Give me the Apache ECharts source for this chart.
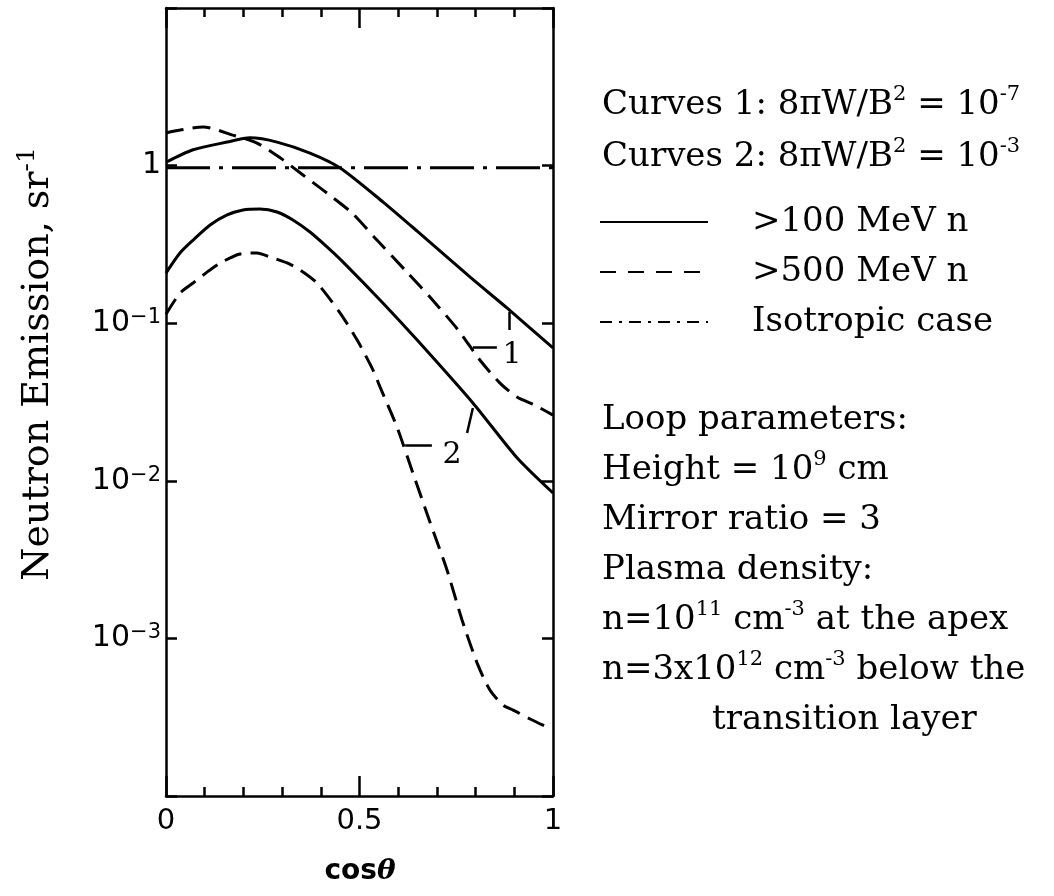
<!DOCTYPE html>
<html>
<head>
<meta charset="utf-8">
<script src="https://cdn.jsdelivr.net/npm/echarts@6/dist/echarts.min.js"></script>
<style>
  html, body { margin: 0; padding: 0; background: #fff; }
  #chart { width: 1054px; height: 896px; }
</style>
</head>
<body>
<div id="chart"></div>
<script>
// values (x = cos theta, y = neutron emission per sr)
const cosS1 = [0, 0.070, 0.158, 0.217, 0.287, 0.372, 0.450, 0.561, 0.649, 0.786, 0.881, 1]
const valS1 = [1.05, 1.26, 1.41, 1.50, 1.41, 1.20, 0.966, 0.587, 0.384, 0.196, 0.125, 0.0697]

const cosD1 = [0, 0.036, 0.096, 0.173, 0.235, 0.295, 0.354, 0.416, 0.481, 0.545, 0.625, 0.682, 0.755, 0.811, 0.863, 0.907, 0.953, 1]
const valD1 = [1.61, 1.68, 1.76, 1.56, 1.39, 1.12, 0.871, 0.669, 0.500, 0.337, 0.208, 0.1466, 0.0905, 0.0584, 0.0417, 0.0340, 0.0302, 0.0261]

const cosS2 = [0, 0.036, 0.070, 0.114, 0.158, 0.199, 0.243, 0.287, 0.328, 0.372, 0.416, 0.457, 0.561, 0.649, 0.793, 0.907, 1]
const valS2 = [0.208, 0.279, 0.337, 0.420, 0.486, 0.523, 0.530, 0.508, 0.452, 0.379, 0.305, 0.245, 0.134, 0.0782, 0.0312, 0.0140, 0.00837]

const cosD2 = [0, 0.036, 0.070, 0.106, 0.140, 0.191, 0.235, 0.269, 0.313, 0.346, 0.390, 0.450, 0.494, 0.535, 0.553, 0.597, 0.638, 0.682, 0.726, 0.765, 0.804, 0.837, 0.871, 0.897, 0.941, 0.984]
const valD2 = [0.114, 0.155, 0.180, 0.211, 0.241, 0.275, 0.279, 0.263, 0.241, 0.218, 0.180, 0.116, 0.0781, 0.0504, 0.0394, 0.0219, 0.0112, 0.00547, 0.00272, 0.00131, 0.000697, 0.000470, 0.000377, 0.000351, 0.000308, 0.000274]

const cosIso = [0, 1]
const valIso = [0.97, 0.97]

// curve labels "1" and "2" with their leader strokes (data units)
const curveTags = [['1', 0.894, 0.0629], ['2', 0.739, 0.0146]]
const leaders = [
  [[0.793, 0.0706], [0.855, 0.0706]],
  [[0.886, 0.118], [0.886, 0.0905]],
  [[0.618, 0.01687], [0.687, 0.01687]],
  [[0.793, 0.0290], [0.778, 0.0201]]
]

const textLines = [
  '{t|Curves 1: 8πW/B}{s|2}{t| = 10}{s|-7}',
  '{t|Curves 2: 8πW/B}{s|2}{t| = 10}{s|-3}',
  '{t|>100 MeV n}',
  '{t|>500 MeV n}',
  '{t|Isotropic case}',
  '{t|Loop parameters:}',
  '{t|Height = 10}{s|9}{t| cm}',
  '{t|Mirror ratio = 3}',
  '{t|Plasma density:}',
  '{t|n=10}{s|11}{t| cm}{s|-3}{t| at the apex}',
  '{t|n=3x10}{s|12}{t| cm}{s|-3}{t| below the}',
  '{t|transition layer}'
]

const zip = (xs, ys) => xs.map((x, i) => [x, ys[i]])

const serif = 'DejaVu Serif'
const sans = 'DejaVu Sans'
const textRich = {
  t: { fontFamily: serif, fontSize: 34, color: '#000', lineHeight: 42 },
  s: { fontFamily: serif, fontSize: 21, color: '#000', lineHeight: 14, verticalAlign: 'top' }
}

const lineY = [105, 157, 222, 272, 322, 420, 470, 520, 570, 620, 670, 720]
const lineX = [602, 602, 752, 752, 752, 602, 602, 602, 602, 602, 602, 712]

const graphics = textLines.map((txt, i) => ({
  type: 'text',
  x: lineX[i],
  y: lineY[i],
  style: { text: txt, rich: textRich, align: 'left', verticalAlign: 'middle' }
}))

// legend line samples
graphics.push(
  { type: 'line', shape: { x1: 600, y1: 222, x2: 708, y2: 222 }, style: { stroke: '#000', lineWidth: 2 } },
  { type: 'line', shape: { x1: 600, y1: 272, x2: 708, y2: 272 }, style: { stroke: '#000', lineWidth: 2, lineDash: [16, 12] } },
  { type: 'line', shape: { x1: 600, y1: 322, x2: 708, y2: 322 }, style: { stroke: '#000', lineWidth: 2, lineDash: [12, 7, 3, 7] } }
)

// axis titles
graphics.push(
  {
    type: 'text', x: 38, y: 364, rotation: Math.PI / 2,
    style: {
      text: '{t|Neutron Emission, sr}{s|-1}',
      rich: {
        t: { fontFamily: serif, fontSize: 38, color: '#000', lineHeight: 46 },
        s: { fontFamily: serif, fontSize: 25, color: '#000', lineHeight: 16, verticalAlign: 'top' }
      },
      align: 'center', verticalAlign: 'middle'
    }
  },
  {
    type: 'text', x: 360, y: 872,
    style: {
      text: '{a|cos}{b|θ}',
      rich: {
        a: { fontFamily: sans, fontWeight: 'bold', fontSize: 28, color: '#000' },
        b: { fontFamily: serif, fontWeight: 'bold', fontStyle: 'italic', fontSize: 28, color: '#000' }
      },
      align: 'center', verticalAlign: 'middle'
    }
  }
)

const chart = echarts.init(document.getElementById('chart'))

const xAxisBase = {
  type: 'value',
  min: 0,
  max: 1,
  interval: 0.5,
  axisLine: { show: true, onZero: false, lineStyle: { color: '#000', width: 2.5 } },
  axisTick: { show: true, inside: true, length: 20, lineStyle: { color: '#000', width: 2.5 } },
  minorTick: { show: true, splitNumber: 5, length: 9, lineStyle: { color: '#000', width: 2.5 } },
  splitLine: { show: false }
}

const yAxisBase = {
  type: 'log',
  logBase: 10,
  min: 1e-4,
  max: 10,
  axisLine: { show: true, onZero: false, lineStyle: { color: '#000', width: 2.5 } },
  axisTick: { show: true, inside: true, length: 11, lineStyle: { color: '#000', width: 2.5 } },
  minorTick: { show: false },
  splitLine: { show: false }
}

const curve = (data, type, width) => ({
  type: 'line',
  data: data,
  smooth: 0.25,
  showSymbol: false,
  symbol: 'none',
  silent: true,
  lineStyle: { color: '#000', width: width, type: type, cap: 'butt' }
})

const s1 = curve(zip(cosS1, valS1), 'solid', 3)
s1.markLine = {
  silent: true,
  symbol: ['none', 'none'],
  label: { show: false },
  lineStyle: { color: '#000', width: 2.5, type: 'solid' },
  data: leaders.map(l => [{ coord: l[0] }, { coord: l[1] }])
}
s1.markPoint = {
  silent: true,
  symbol: 'circle',
  symbolSize: 1,
  itemStyle: { color: 'rgba(0,0,0,0)' },
  label: {
    show: true, position: 'inside', color: '#000', textBorderWidth: 0,
    fontFamily: serif, fontSize: 30,
    formatter: p => p.name
  },
  data: curveTags.map(t => ({ name: t[0], coord: [t[1], t[2]] }))
}

chart.setOption({
  animation: false,
  backgroundColor: '#fff',
  grid: { left: 166, right: 501, top: 8, bottom: 100 },
  xAxis: [
    Object.assign({}, xAxisBase, {
      position: 'bottom',
      axisLabel: {
        show: true, margin: 11, color: '#000', fontFamily: sans, fontSize: 29,
        formatter: v => (v === 0 ? '0' : v === 1 ? '1' : '0.5')
      }
    }),
    Object.assign({}, xAxisBase, { position: 'top', axisLabel: { show: false } })
  ],
  yAxis: [
    Object.assign({}, yAxisBase, {
      position: 'left',
      axisLabel: {
        show: true, margin: 5, color: '#000',
        formatter: v => {
          const e = Math.round(Math.log10(v))
          if (e === 0) return '{n|1}'
          if (e < 0 && e >= -3) return '{n|10}{s|−' + (-e) + '}'
          return ''
        },
        rich: {
          n: { fontFamily: sans, fontSize: 30, color: '#000', lineHeight: 32 },
          s: { fontFamily: sans, fontSize: 21, color: '#000', lineHeight: 14, verticalAlign: 'top' }
        }
      }
    }),
    Object.assign({}, yAxisBase, { position: 'right', axisLabel: { show: false } })
  ],
  series: [
    s1,
    curve(zip(cosD1, valD1), [18, 9], 3),
    curve(zip(cosS2, valS2), 'solid', 3),
    curve(zip(cosD2, valD2), [18, 9], 3),
    Object.assign(curve(zip(cosIso, valIso), [44, 9, 4, 9], 3), { smooth: false })
  ],
  graphic: graphics
})
</script>
</body>
</html>
